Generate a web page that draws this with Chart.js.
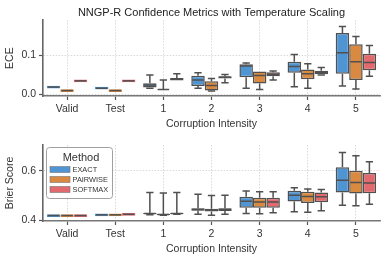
<!DOCTYPE html>
<html>
<head>
<meta charset="utf-8">
<script src="https://cdn.jsdelivr.net/npm/chart.js@4"></script>
<style>
  html, body { margin: 0; padding: 0; background: #fff; }
  #wrap { position: relative; width: 390px; height: 261px; }
  #topBox { position: absolute; left: 0; top: 0; width: 390px; height: 130px; }
  #botBox { position: absolute; left: 0; top: 130px; width: 390px; height: 131px; }
</style>
</head>
<body>
<div id="wrap">
  <div id="topBox"><canvas id="ece"></canvas></div>
  <div id="botBox"><canvas id="brier"></canvas></div>
</div>
<script>
// categories and methods
var categories = ["Valid", "Test", "1", "2", "3", "4", "5"];
var methods = ["EXACT", "PAIRWISE", "SOFTMAX"];
var flatCategories = ["Valid", "Test"]; // single run, no spread

// each entry: [low whisker, q1, median, q3, high whisker]
var eceExact = [
  [0.0145, 0.0145, 0.018, 0.0215, 0.0215],
  [0.0115, 0.0115, 0.015, 0.0185, 0.0185],
  [0.015, 0.017, 0.023, 0.028, 0.049],
  [0.015, 0.021, 0.036, 0.047, 0.055],
  [0.015, 0.043, 0.072, 0.077, 0.080],
  [0.019, 0.055, 0.071, 0.083, 0.102],
  [0.021, 0.052, 0.106, 0.157, 0.174]
];
var ecePairwise = [
  [0.0055, 0.0055, 0.009, 0.0125, 0.0125],
  [0.0055, 0.0055, 0.009, 0.0125, 0.0125],
  [0.0115, 0.0115, 0.012, 0.0125, 0.036],
  [0.008, 0.009, 0.022, 0.033, 0.040],
  [0.012, 0.027, 0.048, 0.058, 0.058],
  [0.015, 0.038, 0.052, 0.063, 0.078],
  [0.013, 0.036, 0.083, 0.128, 0.148]
];
var eceSoftmax = [
  [0.0305, 0.0305, 0.034, 0.0375, 0.0375],
  [0.0305, 0.0305, 0.034, 0.0375, 0.0375],
  [0.035, 0.035, 0.038, 0.041, 0.052],
  [0.029, 0.040, 0.043, 0.046, 0.050],
  [0.036, 0.046, 0.051, 0.056, 0.059],
  [0.049, 0.051, 0.056, 0.060, 0.068],
  [0.046, 0.061, 0.081, 0.104, 0.125]
];

var brierExact = [
  [0.4135, 0.4135, 0.419, 0.4245, 0.4245],
  [0.4165, 0.4165, 0.422, 0.4275, 0.4275],
  [0.422, 0.425, 0.427, 0.429, 0.512],
  [0.424, 0.438, 0.443, 0.449, 0.505],
  [0.427, 0.451, 0.477, 0.495, 0.518],
  [0.434, 0.476, 0.501, 0.519, 0.531],
  [0.461, 0.512, 0.562, 0.614, 0.674]
];
var brierPairwise = [
  [0.4135, 0.4135, 0.419, 0.4245, 0.4245],
  [0.4165, 0.4165, 0.422, 0.4275, 0.4275],
  [0.420, 0.421, 0.423, 0.426, 0.510],
  [0.420, 0.435, 0.441, 0.446, 0.500],
  [0.426, 0.451, 0.474, 0.491, 0.515],
  [0.432, 0.470, 0.496, 0.515, 0.526],
  [0.459, 0.508, 0.553, 0.600, 0.661]
];
var brierSoftmax = [
  [0.4135, 0.4135, 0.419, 0.4245, 0.4245],
  [0.4185, 0.4185, 0.424, 0.4295, 0.4295],
  [0.424, 0.425, 0.427, 0.429, 0.512],
  [0.424, 0.437, 0.443, 0.448, 0.501],
  [0.430, 0.451, 0.474, 0.491, 0.515],
  [0.438, 0.473, 0.495, 0.512, 0.524],
  [0.465, 0.509, 0.550, 0.591, 0.636]
];

var eceTicks = [0.0, 0.1];
var brierTicks = [0.4, 0.6];

var colors = ["#4f95d3", "#d98a40", "#e2696e"];
var edge = "#505050";
var font = "'Liberation Sans', Arial, sans-serif";

function makeDatasets(statsList) {
  return statsList.map(function (stats, i) {
    return {
      label: methods[i],
      stats: stats,
      data: stats.map(function (s) { return [s[1], s[3]]; }),
      backgroundColor: colors[i],
      borderColor: function (c) {
        return flatCategories.indexOf(categories[c.dataIndex]) >= 0 ? colors[i] : edge;
      },
      borderWidth: 1.5,
      borderSkipped: false,
      categoryPercentage: 0.84,
      barPercentage: 1.0
    };
  });
}

// whiskers, caps and medians drawn on top of the floating bars
var boxPlugin = {
  id: "boxWhiskers",
  afterDatasetsDraw: function (chart) {
    var ctx = chart.ctx, y = chart.scales.y;
    chart.data.datasets.forEach(function (ds, i) {
      var meta = chart.getDatasetMeta(i);
      meta.data.forEach(function (bar, j) {
        var s = ds.stats[j];
        var half = bar.width / 2, cap = bar.width * 0.27;
        ctx.save();
        ctx.strokeStyle = edge;
        ctx.lineWidth = 1.5;
        ctx.beginPath();
        if (s[4] > s[3]) {
          ctx.moveTo(bar.x, y.getPixelForValue(s[3]));
          ctx.lineTo(bar.x, y.getPixelForValue(s[4]));
          ctx.moveTo(bar.x - cap, y.getPixelForValue(s[4]));
          ctx.lineTo(bar.x + cap, y.getPixelForValue(s[4]));
        }
        if (s[0] < s[1]) {
          ctx.moveTo(bar.x, y.getPixelForValue(s[1]));
          ctx.lineTo(bar.x, y.getPixelForValue(s[0]));
          ctx.moveTo(bar.x - cap, y.getPixelForValue(s[0]));
          ctx.lineTo(bar.x + cap, y.getPixelForValue(s[0]));
        }
        var m = y.getPixelForValue(s[2]);
        ctx.moveTo(bar.x - half + 1, m);
        ctx.lineTo(bar.x + half - 1, m);
        ctx.stroke();
        ctx.restore();
      });
    });
  }
};

var legendPlugin = {
  id: "methodLegend",
  afterDraw: function (chart) {
    if (!chart.options.plugins.methodLegend) return;
    var ctx = chart.ctx, a = chart.chartArea;
    var x = a.left + 3, top = a.top + 2, w = 66, h = 51;
    ctx.save();
    ctx.fillStyle = "rgba(255,255,255,0.85)";
    ctx.strokeStyle = "#a0a0a0";
    ctx.lineWidth = 1;
    ctx.beginPath();
    ctx.roundRect(x + 0.5, top + 0.5, w, h, 3);
    ctx.fill();
    ctx.stroke();
    ctx.fillStyle = "#333";
    ctx.textBaseline = "middle";
    ctx.textAlign = "center";
    ctx.font = "11px " + font;
    ctx.fillText("Method", x + w / 2 + 2, top + 11);
    ctx.textAlign = "left";
    ctx.font = "7.4px " + font;
    chart.data.datasets.forEach(function (ds, i) {
      var ry = top + 22.5 + i * 10;
      ctx.fillStyle = colors[i];
      ctx.fillRect(x + 4, ry - 3, 20, 6);
      ctx.strokeStyle = "#777";
      ctx.lineWidth = 0.6;
      ctx.strokeRect(x + 4, ry - 3, 20, 6);
      ctx.fillStyle = "#333";
      ctx.fillText(ds.label, x + 26.5, ry + 0.5);
    });
    ctx.restore();
  }
};

function makeChart(id, statsList, yLabel, yMin, yMax, yTicks, opts) {
  return new Chart(document.getElementById(id).getContext("2d"), {
    type: "bar",
    data: { labels: categories, datasets: makeDatasets(statsList) },
    plugins: [boxPlugin, legendPlugin],
    options: {
      responsive: true,
      maintainAspectRatio: false,
      animation: false,
      layout: { padding: { left: 0, right: 10, top: opts.padTop, bottom: 0 } },
      scales: {
        x: {
          grid: { color: "#cfcfcf", lineWidth: 0.8, offset: false, tickColor: "#555", tickLength: 4, tickWidth: 1.2, tickBorderDash: [] },
          border: { color: "#777", width: 1.6, dash: [1.5, 1.5] },
          ticks: { color: "#333", font: { family: font, size: 10.5 }, padding: 3 },
          title: { display: true, text: "Corruption Intensity", color: "#333", font: { family: font, size: 10.5 }, padding: { top: 0, bottom: opts.xTitlePad } },
          afterFit: function (s) { s.height = opts.xHeight; }
        },
        y: {
          min: yMin,
          max: yMax,
          afterBuildTicks: function (s) { s.ticks = yTicks.map(function (v) { return { value: v }; }); },
          grid: { color: "#cfcfcf", lineWidth: 0.8, tickColor: "#555", tickLength: 4, tickWidth: 1.2, tickBorderDash: [] },
          border: { color: "#666", width: 1.6, dash: [1.5, 1.5] },
          ticks: { color: "#333", font: { family: font, size: 10.5 }, padding: 3, callback: function (v) { return Number(v).toFixed(1); } },
          title: { display: true, text: yLabel, color: "#333", font: { family: font, size: 10.5 }, padding: { top: 4, bottom: 2 } },
          afterFit: function (s) { s.width = 43; }
        }
      },
      plugins: {
        legend: { display: false },
        tooltip: { enabled: false },
        methodLegend: opts.legend,
        title: {
          display: !!opts.title,
          text: opts.title || "",
          fullSize: false,
          color: "#222",
          font: { family: font, size: 11, weight: "normal" },
          padding: { top: 6, bottom: 1 }
        }
      }
    }
  });
}

makeChart("ece", [eceExact, ecePairwise, eceSoftmax], "ECE", -0.005, 0.19, eceTicks,
  { padTop: 0, xHeight: 34, xTitlePad: 0, legend: false, title: "NNGP-R Confidence Metrics with Temperature Scaling" });
makeChart("brier", [brierExact, brierPairwise, brierSoftmax], "Brier Score", 0.397, 0.704, brierTicks,
  { padTop: 15, xHeight: 40, xTitlePad: 6, legend: true, title: null });
</script>
</body>
</html>
